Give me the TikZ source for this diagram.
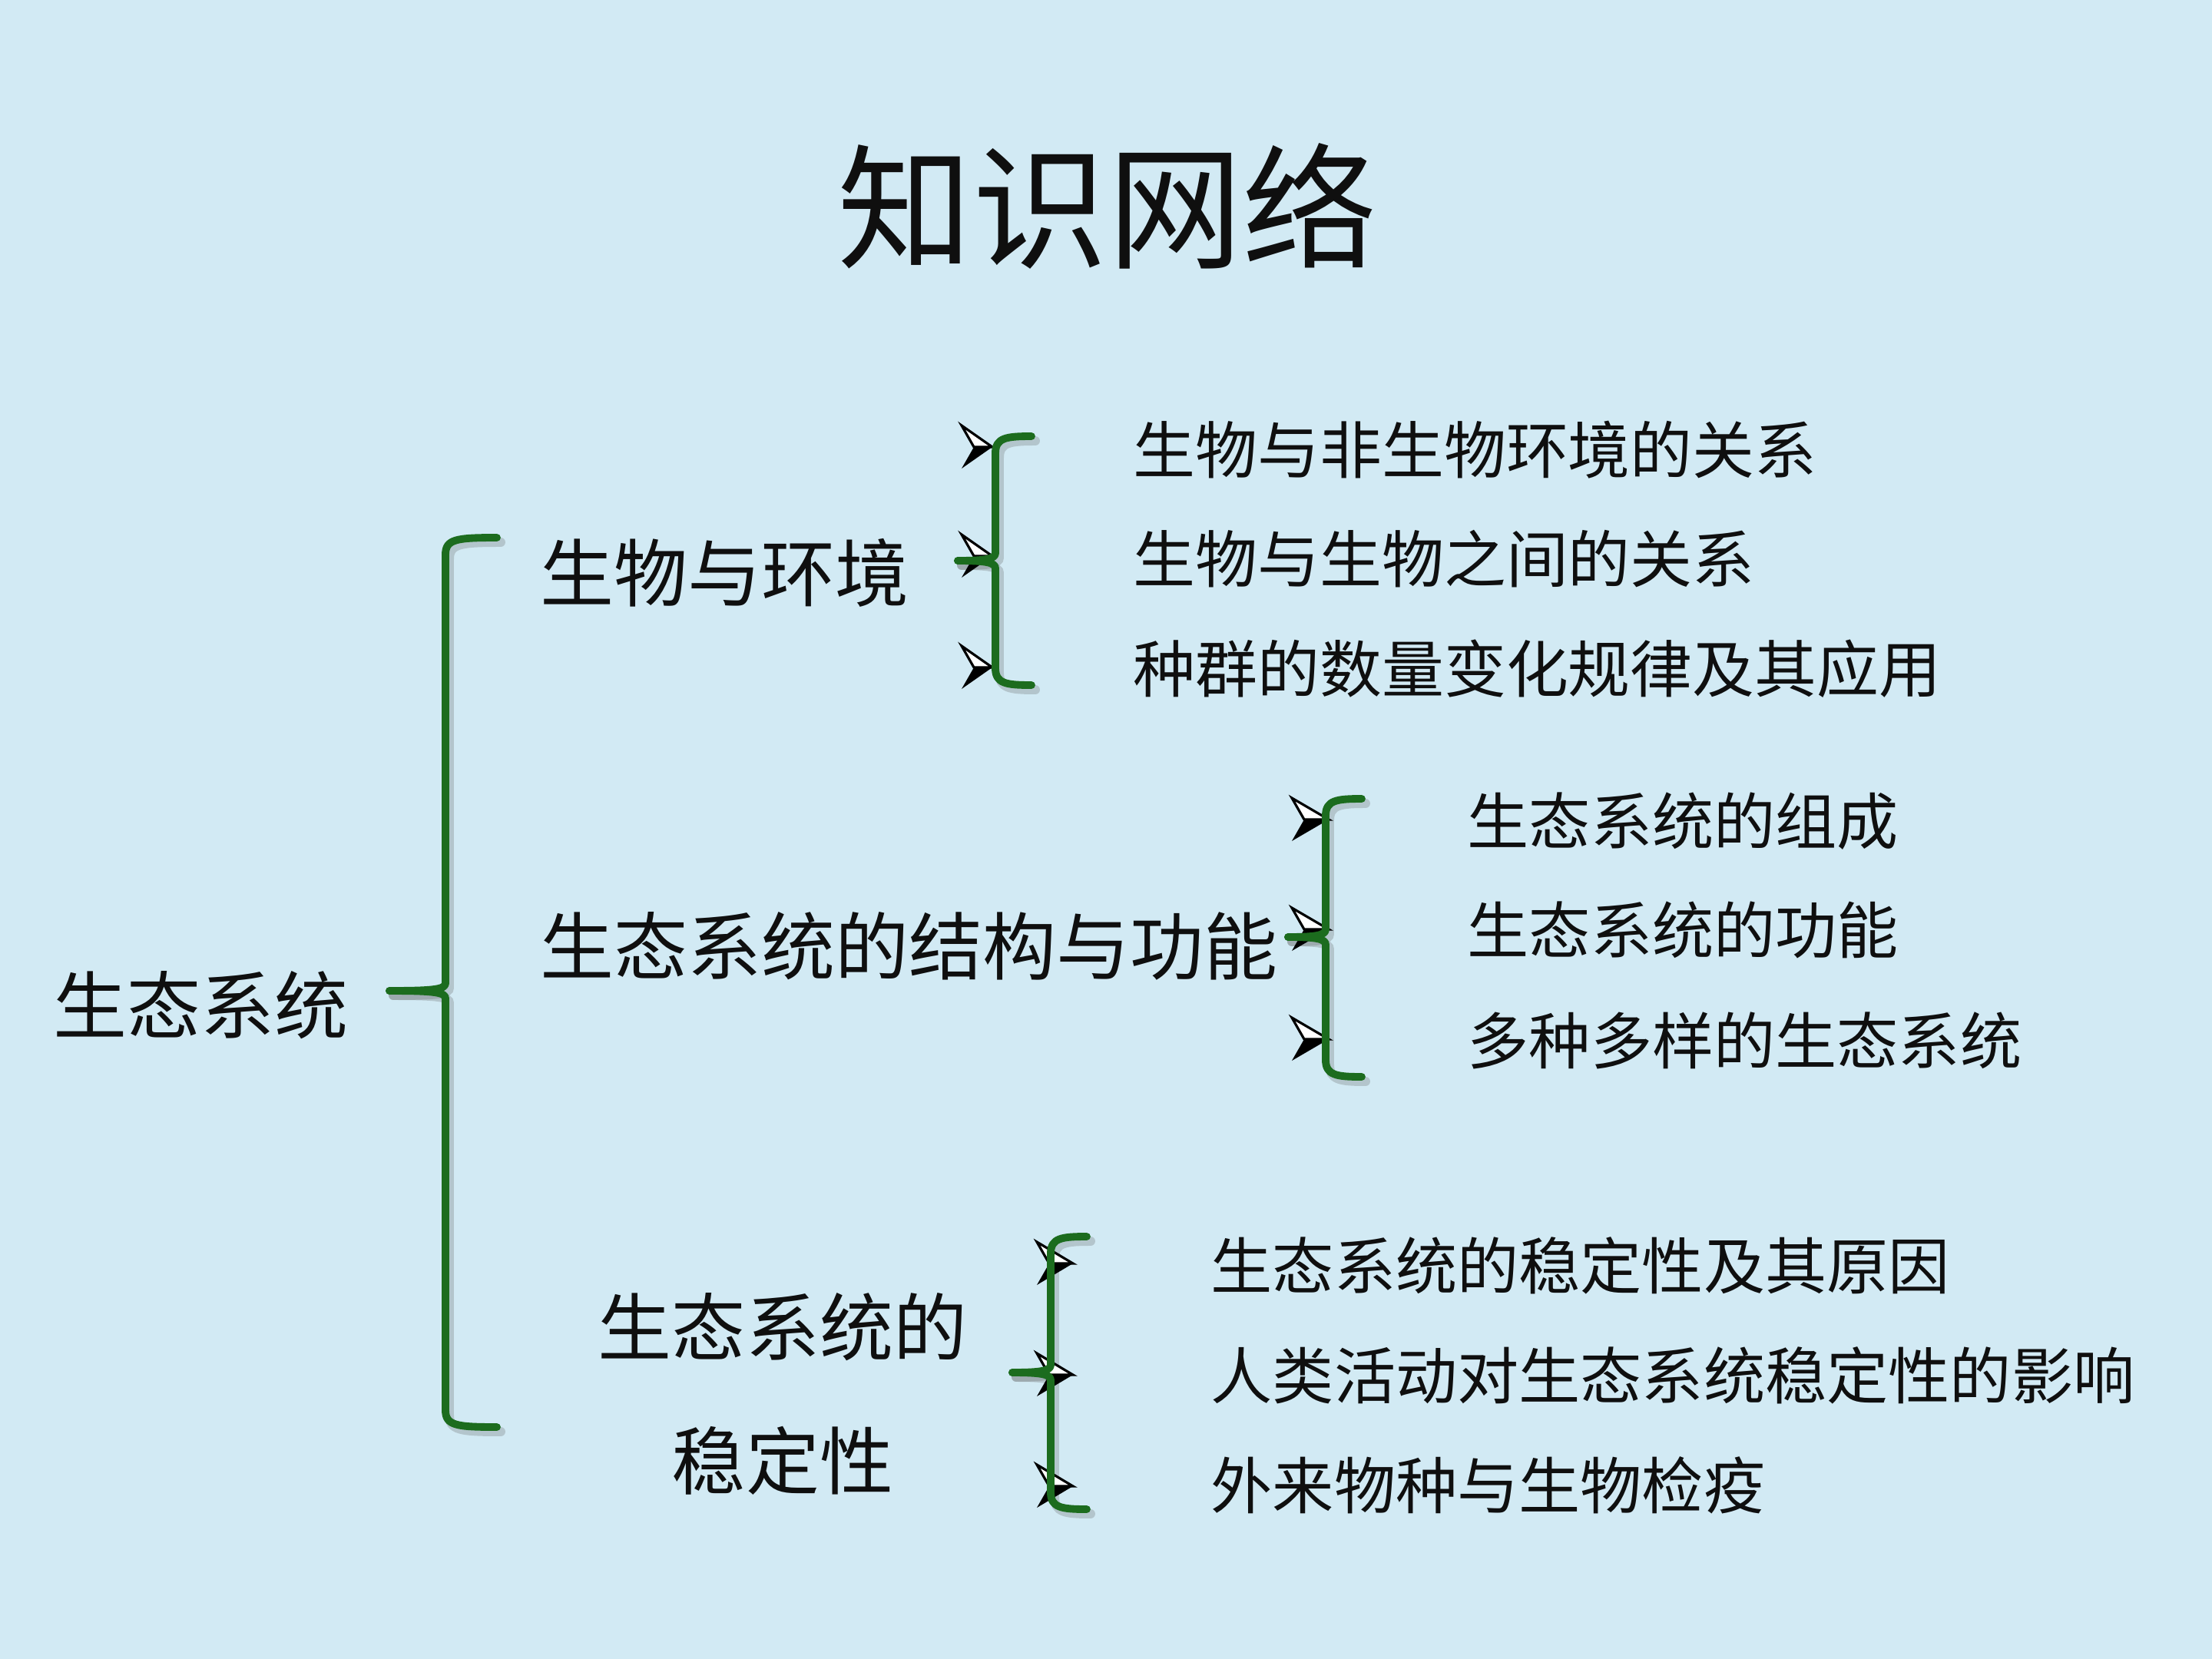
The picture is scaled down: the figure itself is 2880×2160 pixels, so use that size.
\documentclass[tikz,border=0pt]{standalone}
\usepackage{fontspec}
\setmainfont{Noto Sans CJK SC}
\definecolor{bg}{RGB}{210,234,244}
\definecolor{brgreen}{RGB}{28,108,30}
\definecolor{ink}{RGB}{15,15,15}
\tikzset{
  bracestyle/.style={draw=brgreen,line width=2.8pt,line cap=round,line join=round},
  braceshadow/.style={draw=black!60,opacity=0.28,line width=3.4pt,line cap=round,shift={(5,6)}},
  maintext/.style={font=\fontsize{27.3pt}{32pt}\selectfont,text=ink,inner sep=0pt,anchor=west},
  itemA/.style={font=\fontsize{23pt}{28pt}\selectfont,text=ink,inner sep=0pt,anchor=west},
  itemB/.style={font=\fontsize{22.8pt}{28pt}\selectfont,text=ink,inner sep=0pt,anchor=west},
}
% #1 vertical x, #2 top y, #3 bottom y, #4 tip x, #5 tip y, #6 arm end x, #7 style
\newcommand\GreenBrace[7]{%
  \draw[#7] (#6,#2) .. controls (#1+14,#2) and (#1,#2+2) .. (#1,#2+22) -- (#1,#5-10)
     .. controls (#1,#5-2) and (#1-14,#5) .. (#4,#5);
  \draw[#7] (#4,#5) .. controls (#1-14,#5) and (#1,#5+2) .. (#1,#5+10) -- (#1,#3-22)
     .. controls (#1,#3-2) and (#1+14,#3) .. (#6,#3);
}
% #1 tip x, #2 tip y, #3 width
\newcommand\ArrowBullet[3]{%
  \fill[black] (#1,#2) -- (#1-#3+16,#2) -- (#1-#3,#2+28) -- cycle;
  \filldraw[fill=white,draw=black,line width=0.9pt,line join=miter] (#1,#2) -- (#1-#3,#2-28) -- (#1-#3+16,#2) -- cycle;
}
\begin{document}
\begin{tikzpicture}[x=0.01cm,y=-0.01cm]
\fill[bg] (0,0) rectangle (2880,2160);
\useasboundingbox (0,0) rectangle (2880,2160);

% title
\node[font=\fontsize{50pt}{60pt}\selectfont,text=ink,inner sep=0pt] (title) at (1442,268) {知识网络};

% main level
\node[maintext] (root) at (69,1309) {生态系统};
\node[maintext] (env) at (703,746) {生物与环境};
\node[maintext] (struct) at (703,1232) {生态系统的结构与功能};
\node[font=\fontsize{27.3pt}{32pt}\selectfont,text=ink,inner sep=0pt] (stab1) at (1019,1728) {生态系统的};
\node[font=\fontsize{27.3pt}{32pt}\selectfont,text=ink,inner sep=0pt] (stab2) at (1019,1902) {稳定性};

% group 1 items
\node[itemA] (a1) at (1475,586) {生物与非生物环境的关系};
\node[itemA] (a2) at (1475,728) {生物与生物之间的关系};
\node[itemA] (a3) at (1475,871) {种群的数量变化规律及其应用};

% group 2 items
\node[itemB] (b1) at (1910,1069) {生态系统的组成};
\node[itemB] (b2) at (1910,1211) {生态系统的功能};
\node[itemB] (b3) at (1910,1355) {多种多样的生态系统};

% group 3 items
\node[itemB] (c1) at (1576,1648) {生态系统的稳定性及其原因};
\node[itemB] (c2) at (1576,1791) {人类活动对生态系统稳定性的影响};
\node[itemB] (c3) at (1576,1934) {外来物种与生物检疫};

% shadows
\GreenBrace{580}{700}{1858}{507}{1290}{647}{braceshadow}
\GreenBrace{1296}{568}{892}{1247}{730}{1343}{braceshadow}
\GreenBrace{1726}{1040}{1402}{1677}{1220}{1773}{braceshadow}
\GreenBrace{1368}{1610}{1965}{1318}{1787}{1415}{braceshadow}

% arrow bullets
\ArrowBullet{1292}{582}{40}
\ArrowBullet{1292}{724}{40}
\ArrowBullet{1292}{869}{40}
\ArrowBullet{1730}{1067}{48}
\ArrowBullet{1730}{1210}{48}
\ArrowBullet{1730}{1353}{48}
\ArrowBullet{1397}{1645}{47}
\ArrowBullet{1397}{1790}{47}
\ArrowBullet{1397}{1935}{47}

% braces
\GreenBrace{580}{700}{1858}{507}{1290}{647}{bracestyle}
\GreenBrace{1296}{568}{892}{1247}{730}{1343}{bracestyle}
\GreenBrace{1726}{1040}{1402}{1677}{1220}{1773}{bracestyle}
\GreenBrace{1368}{1610}{1965}{1318}{1787}{1415}{bracestyle}
\end{tikzpicture}
\end{document}
